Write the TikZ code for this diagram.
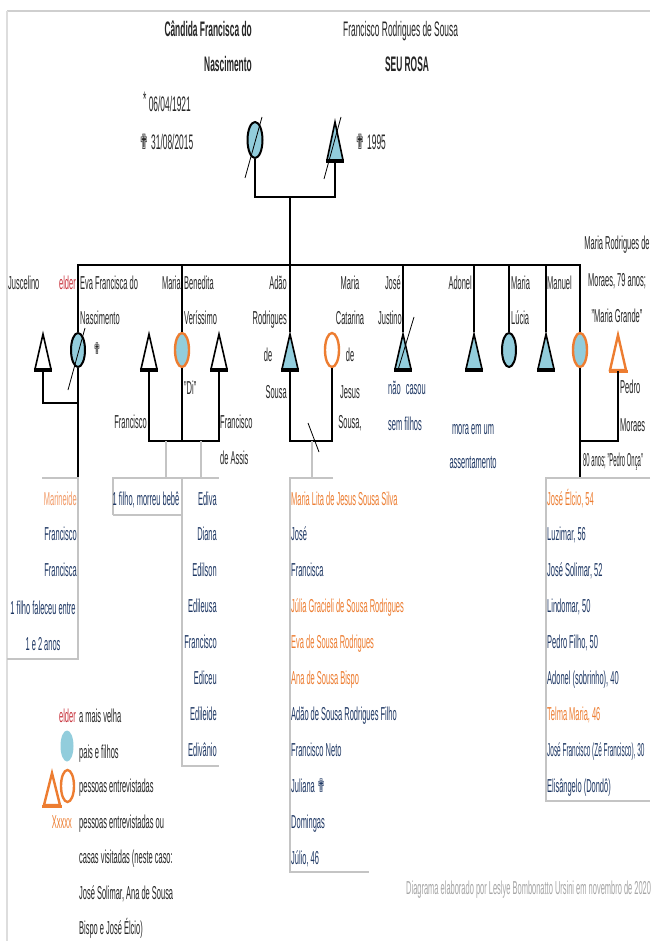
\documentclass[tikz,border=0pt]{standalone}
\usepackage{fontspec}
\setmainfont{Liberation Sans}[FakeStretch=0.4]
\newfontfamily\symfont{DejaVu Sans}[FakeStretch=0.55]
\usetikzlibrary{shapes.geometric}

\definecolor{cBlue}{HTML}{92CDDC}
\definecolor{cOr}{HTML}{ED7D31}
\definecolor{cOrL}{HTML}{F29A66}
\definecolor{cNavy}{HTML}{1F3864}
\definecolor{cRed}{HTML}{C8323C}
\definecolor{cInk}{HTML}{262626}
\definecolor{cGrid}{HTML}{C4C4C4}
\definecolor{cFrame}{HTML}{CFCFCF}
\definecolor{cFoot}{HTML}{A6A6A6}

\newcommand\deadmark{{\symfont ✟}}

\tikzset{
  fem/.style={ellipse, draw=black, line width=2pt, fill=cBlue,
    minimum width=14pt, minimum height=34pt, inner sep=0pt},
  masc/.style={isosceles triangle, isosceles triangle stretches,
    shape border rotate=90, draw=black, line width=1.6pt, fill=cBlue,
    minimum width=16pt, minimum height=35pt, inner sep=0pt, anchor=apex},
  ring/.style={draw=cOr, line width=2.4pt},
  kin/.style={line width=1.7pt, black},
  grid/.style={line width=1.4pt, cGrid},
  slash/.style={line width=0.8pt, black},
  lbl/.style={font=\fontsize{18.7}{20}\selectfont, text=cInk, inner sep=0pt},
  big/.style={font=\fontsize{21}{23}\selectfont, text=cInk, inner sep=0pt},
  kid/.style={font=\fontsize{18.7}{20}\selectfont, text=cNavy, inner sep=0pt},
}

\begin{document}
\begin{tikzpicture}[x=1pt,y=-1pt]
\useasboundingbox (0,0) rectangle (650,941);
\fill[white] (0,0) rectangle (650,941);

% sheet frame
\draw[line width=2pt, cFrame] (7,11) -- (650,11);
\draw[line width=1.4pt, cFrame!70] (7,11) -- (7,941);

% ---- parents ----
\node[big, anchor=base east] (tmom1) at (252,37) {\bfseries Cândida Francisca do};
\node[big, anchor=base east] (tmom2) at (252,72) {\bfseries Nascimento};
\node[big, anchor=base west] (tdad1) at (343,37) {Francisco Rodrigues de Sousa};
\node[big, anchor=base] (tdad2) at (407,72) {\bfseries SEU ROSA};
\node[big, anchor=base west] (tborn) at (143,112) {\raisebox{5pt}{*} 06/04/1921};
\node[big, anchor=base west] (tdied) at (139,150) {\deadmark\ 31/08/2015};
\node[big, anchor=base west] (tdad3) at (355,150) {\deadmark\ 1995};

\node[fem, minimum height=36pt, minimum width=15pt] (mom) at (255,140) {};
\node[masc, minimum height=38pt] (dad) at (335,120) {};
\draw[line width=3.5pt] (dad.left corner) -- (dad.right corner);
\draw[slash] (245,178) -- (262,117);
\draw[slash] (324,179) -- (341,117);

\coordinate (pj) at (290,197);
\coordinate (bar) at (290,265);
\draw[kin] (mom.south) |- (pj) -| (dad.south);
\draw[kin] (pj) -- (bar);

% ---- children and their partners ----
\node[masc, fill=white] (jus) at (43,332) {};
\node[fem] (eva) at (78,350) {};
\node[masc, fill=white] (fco) at (149,332) {};
\node[fem, ring] (mbv) at (182,350) {};
\node[masc, fill=white] (fas) at (219,332) {};
\node[masc] (adao) at (290,332) {};
\node[fem, ring, fill=white] (mcj) at (332,350) {};
\node[masc] (jj) at (403,332) {};
\node[masc] (adonel) at (474,332) {};
\node[fem] (mlu) at (509,350) {};
\node[masc] (man) at (546,332) {};
\node[fem, ring] (mrm) at (580,350) {};
\node[masc, draw=cOr, line width=2.4pt, fill=white] (ped) at (618,332) {};

\foreach \n in {jus,fco,fas,adao,jj,adonel,man}
  \draw[line width=3.5pt] (\n.left corner) -- (\n.right corner);
\draw[line width=3.5pt, cOr] (ped.left corner) -- (ped.right corner);

\draw[slash] (68,390) -- (85,328);
\draw[slash] (398,370) -- (414,317);

% sibling bar and drops
\draw[kin] (eva.north) |- (bar) -| (mrm.north);
\foreach \n in {mbv,adao,jj,adonel,mlu,man}
  \draw[kin] (\n.north) -- (\n.north |- bar);

% unions
\coordinate (evaj) at (78,403);
\coordinate (evabox) at (78,478);
\draw[kin] (jus.south) |- (evaj);
\draw[kin] (eva.south) -- (evabox);

\coordinate (mbvj) at (182,441);
\draw[kin] (fco.south) |- (mbvj) -| (fas.south);
\draw[kin] (mbv.south) -- (mbvj);

\coordinate (adj) at (311,441);
\draw[kin] (adao.south) |- (adj) -| (mcj.south);
\draw[slash] (308,423) -- (319,452);

\coordinate (mrj) at (599,441);
\coordinate (mrbox) at (580,478);
\draw[kin] (mrm.south) |- (mrj) -| (ped.south);
\draw[kin] (mrm.south) -- (mrbox);

% descent lines to the lists
\coordinate (d1a) at (166,441); \coordinate (d1b) at (166,478);
\coordinate (d2a) at (201,441); \coordinate (d2b) at (201,478);
\coordinate (d3a) at (312,441); \coordinate (d3b) at (312,478);
\draw[grid] (d1a) -- (d1b);
\draw[grid] (d2a) -- (d2b);
\draw[grid] (d3a) -- (d3b);

% list cells
\draw[grid] (42,478) -- (78,478) -- (78,659) -- (7,659);
\draw[grid] (113,515) -- (113,478) -- (219,478);
\draw[grid] (113,515) -- (182,515);
\draw[grid] (182,478) -- (182,766) -- (219,766);
\draw[grid] (333,478) -- (290,478) -- (290,872) -- (369,872);
\draw[grid] (650,478) -- (546,478) -- (546,801) -- (650,801);

% ---- labels of the sibling row ----
\node[lbl, anchor=base west] (ljus) at (8,289) {Juscelino};
\node[lbl, anchor=base east, text=cRed] (lelder) at (76,289) {elder};
\node[lbl, anchor=base west] (leva1) at (80,289) {Eva Francisca do};
\node[lbl, anchor=base west] (leva2) at (80,324) {Nascimento};
\node[lbl, font=\fontsize{16}{18}\selectfont] (leva3) at (97,349) {\deadmark};

\node[lbl, anchor=base east] (lmbv1) at (181,289) {Maria};
\node[lbl, anchor=base west] (lmbv2) at (184,289) {Benedita};
\node[lbl, anchor=base west] (lmbv3) at (184,324) {Veríssimo};
\node[lbl, anchor=base west] (lmbv4) at (184,394) {"Di"};
\node[lbl, anchor=base east] (lfco) at (147,428) {Francisco};
\node[lbl, anchor=base west] (lfas1) at (220,428) {Francisco};
\node[lbl, anchor=base west] (lfas2) at (220,464) {de Assis};

\node[lbl, anchor=base east] (lad1) at (287,289) {Adão};
\node[lbl, anchor=base east] (lad2) at (287,324) {Rodrigues};
\node[lbl, anchor=base] (lad3) at (268,361) {de};
\node[lbl, anchor=base east] (lad4) at (287,398) {Sousa};

\node[lbl, anchor=base] (lmc1) at (350,289) {Maria};
\node[lbl, anchor=base] (lmc2) at (350,324) {Catarina};
\node[lbl, anchor=base] (lmc3) at (350,361) {de};
\node[lbl, anchor=base] (lmc4) at (350,398) {Jesus};
\node[lbl, anchor=base] (lmc5) at (350,428) {Sousa,};

\node[lbl, anchor=base east] (ljj1) at (401,289) {José};
\node[lbl, anchor=base east] (ljj2) at (402,324) {Justino};
\node[kid, anchor=base] (ljj3) at (407,394) {não\hspace{3pt} casou};
\node[kid, anchor=base] (ljj4) at (405,430) {sem filhos};

\node[lbl, anchor=base east] (lado1) at (472,289) {Adonel};
\node[kid, anchor=base] (lado2) at (473,434) {mora em um};
\node[kid, anchor=base] (lado3) at (473,468) {assentamento};

\node[lbl, anchor=base west] (lmlu1) at (511,289) {Maria};
\node[lbl, anchor=base west] (lmlu2) at (511,324) {Lúcia};
\node[lbl, anchor=base west] (lman) at (547,289) {Manuel};

\node[lbl, anchor=base] (lmrm1) at (617,249) {Maria Rodrigues de};
\node[lbl, anchor=base] (lmrm2) at (617,286) {Moraes, 79 anos;};
\node[lbl, anchor=base] (lmrm3) at (617,322) {"Maria Grande"};
\node[lbl, anchor=base west] (lped1) at (620,393) {Pedro};
\node[lbl, anchor=base west] (lped2) at (620,431) {Moraes};
\node[lbl, anchor=base west] (lped3) at (583,466) {\scalebox{0.79}[1]{80 anos; "Pedro Onça"}};

% ---- lists of grandchildren ----
\foreach [count=\i from 0] \t in {{\color{cOrL}Marineide}, Francisco, Francisca}
  \node[kid, anchor=base east] (gEva\i) at (77,{505+35.9*\i}) {\t};
\node[kid, anchor=base] (gEva3) at (43,614) {1 filho faleceu entre};
\node[kid, anchor=base] (gEva4) at (43,650) {1 e 2 anos};

\node[kid, anchor=base] (gFco) at (146,505) {1 filho, morreu bebê};

\foreach [count=\i from 0] \t in {Ediva, Diana, Edilson, Edileusa, Francisco, Ediceu, Edileide, Edivânio}
  \node[kid, anchor=base east] (gFas\i) at (217,{505+35.9*\i}) {\t};

\foreach [count=\i from 0] \t in {{\color{cOr}Maria Lita de Jesus Sousa Silva}, José, Francisca,
    {\color{cOr}Júlia Gracieli de Sousa Rodrigues}, {\color{cOr}Eva de Sousa Rodrigues},
    {\color{cOr}Ana de Sousa Bispo}, Adão de Sousa Rodrigues Filho, Francisco Neto,
    {Juliana \deadmark}, Domingas, {Júlio, 46}}
  \node[kid, anchor=base west] (gAd\i) at (291,{505+35.9*\i}) {\t};

\foreach [count=\i from 0] \t in {{\color{cOr}José Élcio, 54}, {Luzimar, 56}, {José Solimar, 52},
    {Lindomar, 50}, {Pedro Filho, 50}, {Adonel (sobrinho), 40}, {\color{cOr}Telma Maria, 46},
    {\scalebox{0.86}[1]{José Francisco (Zé Francisco), 30}}, Elisângelo (Dondô)}
  \node[kid, anchor=base west] (gMr\i) at (547,{505+35.9*\i}) {\t};

% ---- key ----
\node[lbl, anchor=base east, text=cRed] (kElder) at (76,722) {elder};
\node[lbl, anchor=base west] (kElderT) at (79,722) {a mais velha};
\node[fem, draw=none, minimum height=31pt, minimum width=13pt] (kBlue) at (67,746) {};
\node[lbl, anchor=base west] (kBlueT) at (79,758) {pais e filhos};
\node[masc, draw=cOr, line width=2.4pt, fill=white, minimum height=32pt] (kTri) at (52,770) {};
\draw[line width=3.2pt, cOr] (kTri.left corner) -- (kTri.right corner);
\node[fem, ring, fill=white, minimum height=32pt, minimum width=13pt] (kCirc) at (67.5,786) {};
\node[lbl, anchor=base west] (kShapeT) at (79,792) {pessoas entrevistadas};
\node[lbl, anchor=base east, text=cOr] (kX) at (72,828) {Xxxxx};
\node[lbl, anchor=base west] (kX1) at (79,828) {pessoas entrevistadas ou};
\node[lbl, anchor=base west] (kX2) at (79,863) {casas visitadas (neste caso:};
\node[lbl, anchor=base west] (kX3) at (79,899) {José Solimar, Ana de Sousa};
\node[lbl, anchor=base west] (kX4) at (79,934) {Bispo e José Élcio)};

% ---- credit ----
\node[lbl, anchor=base west, text=cFoot] (credit) at (406,894)
  {Diagrama elaborado por Leslye Bombonatto Ursini em novembro de 2020};
\end{tikzpicture}
\end{document}
